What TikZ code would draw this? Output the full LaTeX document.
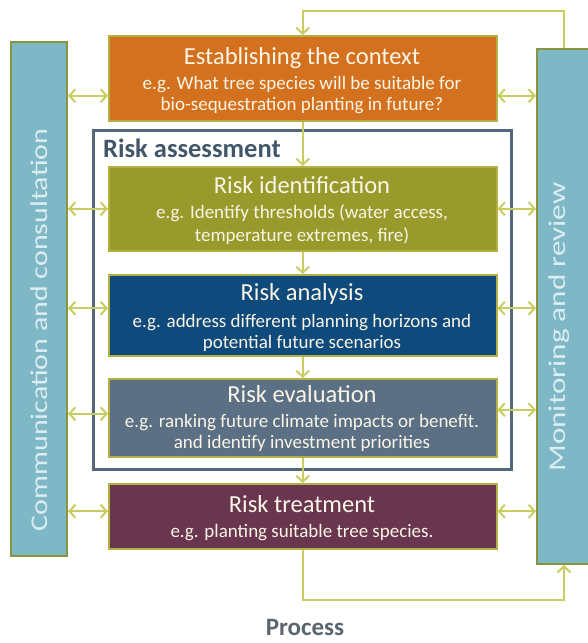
\documentclass[tikz,border=0pt]{standalone}
\usepackage{fontspec}
\setmainfont{Carlito}
\usetikzlibrary{arrows.meta}
\definecolor{orangeC}{HTML}{D4711F}
\definecolor{oliveC}{HTML}{999A2C}
\definecolor{blueC}{HTML}{0F4A7C}
\definecolor{slateC}{HTML}{5B7085}
\definecolor{maroonC}{HTML}{6A364F}
\definecolor{tealC}{HTML}{7EB7C5}
\definecolor{barEdge}{HTML}{889540}
\definecolor{boxEdge}{HTML}{B2B040}
\definecolor{arrowC}{HTML}{C9CC5E}
\definecolor{frameC}{HTML}{56677A}
\definecolor{cream}{HTML}{FBF5E6}
\definecolor{raText}{HTML}{42566A}
\definecolor{procC}{HTML}{5B656D}
\definecolor{barText}{HTML}{DCEDF1}
\begin{document}
\begin{tikzpicture}[x=1pt,y=-1pt,
  box/.style={draw=boxEdge, line width=1.5pt, rectangle, inner sep=0pt, minimum width=388pt, anchor=north west},
  bar/.style={draw=barEdge, fill=tealC, line width=2pt, rectangle, inner sep=0pt, anchor=north west},
  ttl/.style={text=cream, font=\fontsize{24.5}{29}\selectfont, anchor=base, inner sep=0pt},
  sub/.style={text=cream, font=\fontsize{19}{22}\selectfont, anchor=base, inner sep=0pt},
  bartxt/.style={text=barText, font=\fontsize{24}{28}\selectfont, anchor=base, inner sep=0pt, rotate=90},
  tip/.tip={Straight Barb[length=6pt,width=13pt]},
  conn/.style={draw=arrowC, line width=2pt, -tip},
  dconn/.style={draw=arrowC, line width=2pt, tip-tip}
]
\useasboundingbox (0,0) rectangle (588,643);
% side bars
\node[bar, minimum width=56pt, minimum height=514pt] (lbar) at (10,41) {};
\node[bar, minimum width=54pt, minimum height=515pt] (rbar) at (536,48) {};
\node[bartxt] (ltxt) at (47,330) {\scalebox{1.25}[1]{Communication and consultation}};
\node[bartxt] (rtxt) at (565,327) {\scalebox{1.3}[1]{Monitoring and review}};
% risk assessment frame
\node[draw=frameC, line width=2.5pt, rectangle, inner sep=0pt, minimum width=418pt, minimum height=339pt, anchor=north west] (ra) at (92,129) {};
\node[text=raText, font=\bfseries\fontsize{26.5}{30}\selectfont, anchor=base west, inner sep=0pt] (ratxt) at (103,157) {Risk assessment};
% boxes
\node[box, fill=orangeC, minimum height=85pt] (ob) at (108,35) {};
\node[box, fill=oliveC, minimum height=84pt] (ib) at (108,166) {};
\node[box, fill=blueC, minimum height=81pt] (ab) at (108,274) {};
\node[box, fill=slateC, minimum height=78pt] (eb) at (108,378) {};
\node[box, fill=maroonC, minimum height=65pt] (tb) at (108,483) {};
% texts
\node[ttl] (ot) at (302,64) {Establishing the context};
\node[sub] (os1) at (302,89) {e.g. What tree species will be suitable for};
\node[sub] (os2) at (302,110) {bio-sequestration planting in future?};
\node[ttl] (it) at (302,193) {Risk identification};
\node[sub] (is1) at (302,218) {e.g. Identify thresholds (water access,};
\node[sub] (is2) at (302,241) {temperature extremes, fire)};
\node[ttl] (at) at (302,300) {Risk analysis};
\node[sub] (as1) at (302,327) {e.g. address different planning horizons and};
\node[sub] (as2) at (302,348) {potential future scenarios};
\node[ttl] (et) at (302,402) {Risk evaluation};
\node[sub] (es1) at (302,427) {e.g. ranking future climate impacts or benefit.};
\node[sub] (es2) at (302,448) {and identify investment priorities};
\node[ttl] (tt) at (302,512) {Risk treatment};
\node[sub] (ts1) at (302,537) {e.g. planting suitable tree species.};
\node[text=procC, font=\bfseries\fontsize{25}{30}\selectfont, anchor=base, inner sep=0pt] (proc) at (305,635) {Process};
% vertical flow
\draw[conn] (ob.south) -- (ib.north);
\draw[conn] (ib.south) -- (ab.north);
\draw[conn] (ab.south) -- (eb.north);
\draw[conn] (eb.south) -- (tb.north);
% loops
\coordinate (topy) at (0,11);
\coordinate (boty) at (0,600);
\draw[conn, line join=miter] (rbar.north) -- (rbar.north |- topy) -| (ob.north);
\draw[conn, line join=miter] (tb.south) -- (tb.south |- boty) -| (rbar.south);
% left double arrows
\draw[dconn] ([yshift=-17.5pt]ob.west -| lbar.east) -- ([yshift=-17.5pt]ob.west);
\draw[dconn] (ib.west -| lbar.east) -- (ib.west);
\draw[dconn] ([yshift=7pt]ab.west -| lbar.east) -- ([yshift=7pt]ab.west);
\draw[dconn] ([yshift=4pt]eb.west -| lbar.east) -- ([yshift=4pt]eb.west);
\draw[dconn] ([yshift=5pt]tb.west -| lbar.east) -- ([yshift=5pt]tb.west);
% right double arrows
\draw[dconn] ([yshift=-17.5pt]ob.east) -- ([yshift=-17.5pt]ob.east -| rbar.west);
\draw[dconn] (ib.east) -- (ib.east -| rbar.west);
\draw[dconn] ([yshift=7pt]ab.east) -- ([yshift=7pt]ab.east -| rbar.west);
\draw[dconn] ([yshift=8pt]eb.east) -- ([yshift=8pt]eb.east -| rbar.west);
\draw[dconn] ([yshift=5pt]tb.east) -- ([yshift=5pt]tb.east -| rbar.west);
\end{tikzpicture}
\end{document}
